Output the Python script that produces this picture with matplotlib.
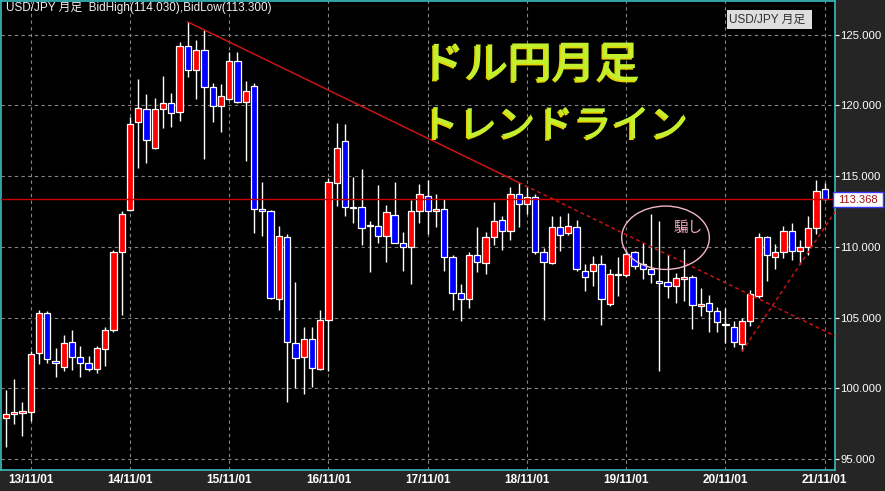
import matplotlib
matplotlib.use('Agg')
import matplotlib.pyplot as plt
import matplotlib.patheffects as pe
from matplotlib.patches import Ellipse, Rectangle
import numpy as np
import pandas as pd

# USD/JPY monthly bars, Aug 2013 .. Nov 2021
start_month = '2013-08-01'
opens = [97.9, 98.2, 98.25, 98.35, 102.5, 105.3, 101.95, 101.5, 103.3, 102.2, 101.8, 101.35,
         102.8, 104.15, 109.65, 112.6, 118.8, 119.75, 117.0, 119.75, 120.15, 119.5, 124.2, 122.5,
         123.95, 121.3, 119.95, 120.45, 123.15, 120.25, 121.35, 112.7, 112.55, 106.3, 110.7, 103.2,
         102.2, 103.45, 101.35, 104.85, 114.5, 117.5, 112.85, 112.8, 111.45, 111.45, 110.8, 112.25,
         110.3, 110.0, 112.55, 113.6, 112.55, 112.65, 109.25, 106.7, 106.3, 109.4, 108.85, 110.7,
         111.9, 111.1, 113.75, 113.0, 113.55, 109.65, 108.85, 111.4, 110.95, 111.4, 108.3, 108.3,
         108.8, 105.95, 108.05, 108.0, 109.6, 108.8, 108.45, 107.5, 107.5, 107.2, 107.75, 107.9,
         105.85, 106.0, 105.45, 104.55, 104.35, 103.15, 104.75, 106.5, 110.7, 109.3, 109.6, 111.15,
         109.7, 110.0, 111.3, 114.1]
highs = [99.9, 100.65, 99.0, 102.6, 105.5, 105.45, 102.85, 103.75, 104.15, 103.0, 102.3, 103.0,
         104.3, 109.8, 112.5, 119.15, 121.9, 120.8, 120.5, 122.05, 120.9, 124.5, 125.9, 124.65,
         125.3, 121.6, 121.5, 123.8, 123.8, 121.75, 121.6, 114.6, 112.6, 111.5, 110.9, 107.5,
         104.3, 104.3, 105.5, 114.85, 118.75, 118.65, 114.95, 115.5, 111.8, 114.4, 112.95, 114.55,
         111.05, 113.3, 114.45, 114.7, 113.75, 113.4, 109.4, 107.35, 109.6, 111.4, 111.05, 113.2,
         112.2, 114.25, 114.55, 114.25, 113.75, 109.95, 112.15, 112.15, 112.4, 111.9, 108.75, 109.35,
         109.4, 108.4, 109.3, 109.75, 109.7, 110.3, 112.3, 111.8, 109.4, 108.15, 109.85, 108.0,
         107.1, 106.6, 105.75, 105.7, 104.75, 104.95, 106.95, 110.95, 110.8, 110.2, 111.5, 111.7,
         110.5, 112.2, 114.75, 114.5]
lows = [95.85, 97.5, 96.6, 97.65, 101.7, 101.8, 100.8, 101.2, 101.3, 100.8, 101.25, 101.1,
        101.6, 104.0, 105.2, 112.5, 115.6, 115.9, 116.9, 118.4, 118.5, 118.9, 122.0, 120.45,
        116.2, 118.8, 118.1, 120.4, 120.2, 116.05, 111.0, 110.8, 106.3, 105.55, 99.0, 100.0,
        99.6, 100.1, 101.3, 101.2, 112.9, 112.15, 111.7, 110.1, 108.2, 110.3, 108.9, 110.25,
        108.3, 107.35, 111.7, 110.9, 111.4, 108.3, 105.5, 104.75, 105.7, 108.2, 108.1, 110.1,
        109.8, 110.45, 111.4, 112.3, 109.5, 104.85, 108.75, 109.7, 110.85, 108.3, 106.85, 107.2,
        104.5, 105.8, 106.5, 107.9, 108.4, 107.7, 107.45, 101.2, 106.4, 106.05, 106.15, 104.2,
        105.1, 104.0, 104.0, 103.2, 102.95, 102.6, 104.4, 106.4, 107.6, 108.4, 109.2, 109.1,
        108.75, 109.45, 110.9, 113.3]
closes = [98.2, 98.3, 98.4, 102.45, 105.3, 102.05, 101.8, 103.2, 102.2, 101.8, 101.35, 102.85,
          104.15, 109.65, 112.35, 118.7, 119.8, 117.55, 119.75, 120.15, 119.45, 124.2, 122.5, 123.95,
          121.3, 119.95, 120.65, 123.15, 120.25, 121.05, 112.7, 112.55, 106.4, 110.8, 103.3, 102.15,
          103.5, 101.45, 104.85, 114.55, 117.0, 112.85, 112.75, 111.35, 111.5, 110.8, 112.45, 110.3,
          110.0, 112.55, 113.7, 112.55, 112.7, 109.25, 106.75, 106.3, 109.4, 108.9, 110.7, 111.85,
          111.1, 113.7, 113.0, 113.55, 109.65, 108.9, 111.4, 110.85, 111.5, 108.4, 107.9, 108.75,
          106.3, 108.05, 108.0, 109.5, 108.65, 108.4, 108.1, 107.45, 107.2, 107.8, 107.9, 105.9,
          105.9, 105.45, 104.65, 104.45, 103.25, 104.75, 106.65, 110.7, 109.4, 109.6, 111.15, 109.7,
          110.0, 111.3, 113.95, 113.368]

months = pd.date_range(start_month, periods=len(opens), freq='MS')
x = np.arange(len(opens))
o, h, l, c = map(np.array, (opens, highs, lows, closes))

W, H = 885, 491
fig = plt.figure(figsize=(W / 100, H / 100), dpi=100, facecolor='#252525')
ax = fig.add_axes([1 / W, (H - 470) / H, 834 / W, 469 / H], facecolor='black')

teal = '#38bcbc'
for s in ax.spines.values():
    s.set_color(teal)
    s.set_linewidth(1.2)

ax.set_xlim(-0.59, 100.24)
ax.set_ylim(94.22, 127.38)

# grid
ax.grid(True, color='#858585', ls=(0, (3, 3)), lw=0.8, zorder=0)
ax.set_yticks(np.arange(95, 126, 5))
ax.yaxis.tick_right()
ax.yaxis.set_major_formatter(matplotlib.ticker.FormatStrFormatter('%.3f'))
ax.tick_params(axis='y', colors='white', length=3, width=0.8, pad=1, labelsize=8.2)
tick_idx = [i for i, m in enumerate(months) if m.month == 11]
ax.set_xticks(tick_idx)
ax.set_xticklabels([months[i].strftime('%y/%m/%d') for i in tick_idx])
ax.tick_params(axis='x', colors='white', length=0, pad=3, labelsize=8.5)
for t in ax.get_xticklabels():
    t.set_fontweight('bold')
    t.set_family('Liberation Sans')
for t in ax.get_yticklabels():
    t.set_family('Liberation Sans')

# candles
up = c >= o
ax.vlines(x, l, h, color='white', lw=1, zorder=2)
body = np.maximum(np.abs(c - o), 0.1)
ax.bar(x, body, bottom=np.minimum(o, c), width=0.76,
       color=np.where(up, '#ff0000', '#0000ff'), edgecolor='white', lw=0.9, zorder=3)

# current price line
ax.axhline(c[-1], color='#cc0000', lw=1, zorder=4)

# down trendline: Jun15 high through Oct18 high
i0 = int(np.argmax(h))
i1 = 62
k = (h[i1] - h[i0]) / (i1 - i0)
xr = 100.24
ax.plot([i0, i1], [h[i0], h[i1]], color='#c81414', lw=1.1, zorder=4)
ax.plot([i1, xr], [h[i1], h[i1] + k * (xr - i1)], color='#c81414', lw=1.1,
        ls=(0, (2.5, 2)), zorder=4)

# up trendline: Jan21 low through Aug21 low
j0, j1 = 89, 96
k2 = (l[j1] - l[j0]) / (j1 - j0)
ax.plot([j0, xr], [l[j0], l[j0] + k2 * (xr - j0)], color='#c81414', lw=1.1,
        ls=(0, (2.5, 2)), zorder=4)

# fake-out ellipse
ax.add_patch(Ellipse((79.75, 110.64), 10.6, 4.48, fill=False, ec='#f2b6c6', lw=1, zorder=5))
ax.text(82.5, 111.3, '騙し', color='#f0a8bc', fontsize=10.5, ha='center', va='center',
        family=['Noto Sans CJK JP', 'DejaVu Sans'], zorder=6)

# header texts
jp = ['Liberation Sans', 'Noto Sans CJK JP', 'DejaVu Sans']
fig.text(6 / W, 1 - 8.5 / H, 'USD/JPY 月足  BidHigh(114.030),BidLow(113.300)', color='#f2f2f2',
         fontsize=8.5, family=jp, ha='left', va='center')
fig.add_artist(Rectangle((727 / W, 1 - 29 / H), 85 / W, 19 / H, transform=fig.transFigure,
                         fc='#dedede', ec='none'))
fig.text(729 / W, 1 - 19.5 / H, 'USD/JPY 月足', color='#303030', fontsize=8.5, family=jp,
         ha='left', va='center')

# last price label
fig.add_artist(Rectangle((833 / W, 1 - 207 / H), 50 / W, 15 / H, transform=fig.transFigure,
                         fc='white', ec='#3a3aff', lw=1))
fig.text(858 / W, 1 - 199.5 / H, f'{c[-1]:.3f}', color='#a01010', fontsize=8, family=jp,
         ha='center', va='center')

# big title
title_fx = [pe.withSimplePatchShadow(offset=(-1.2, -1.2), shadow_rgbFace='#e6d400', alpha=1.0)]
title_font = ['Noto Sans CJK JP', 'DejaVu Sans']
fig.text(421 / W, 1 - 65 / H, 'ドル円月足', color='#c2f02e', fontsize=31.5, fontweight='medium',
         family=title_font, ha='left', va='center', path_effects=title_fx)
fig.text(421 / W, 1 - 126 / H, 'トレンドライン', color='#c2f02e', fontsize=27.5,
         fontweight='medium', family=title_font, ha='left', va='center', path_effects=title_fx)

fig.savefig('out.png', dpi=100, facecolor=fig.get_facecolor())
